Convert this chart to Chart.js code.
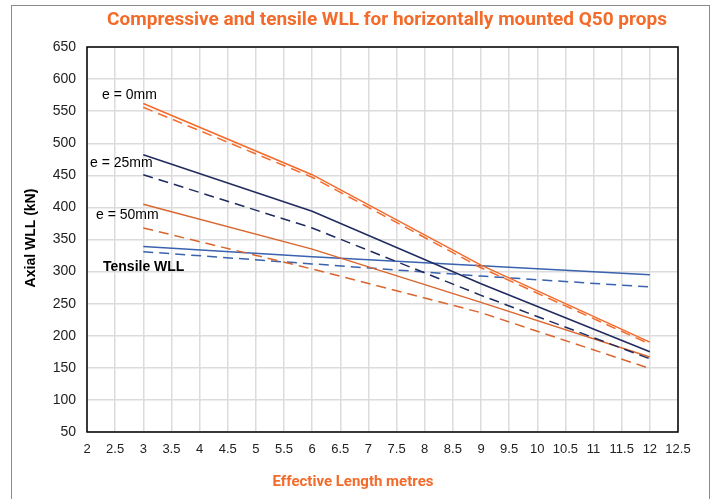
<!DOCTYPE html>
<html>
<head>
<meta charset="utf-8">
<script src="https://cdn.jsdelivr.net/npm/chart.js@4.4.0/dist/chart.umd.min.js"></script>
<style>
    html, body { margin: 0; padding: 0; background: #fff; }
    #wrap { width: 714px; height: 499px; }
</style>
</head>
<body>
<div id="wrap"><canvas id="wllChart" width="714" height="499"></canvas></div>
<script>
// effective length (m) and axial WLL (kN)
var lengths = [3, 6, 9, 12];
var e0Solid = [562, 451, 310, 190];
var e0Dash = [556, 447, 306, 187];
var e25Solid = [482, 394, 281, 175];
var e25Dash = [451, 368, 263, 164];
var e50Solid = [405, 335, 252, 167];
var e50Dash = [368, 304, 236, 149];
var tensileSolid = [339, 323, 309, 295];
var tensileDash = [331, 312, 293, 276];

var ORANGE = '#f36b2b';
var ORANGE_DARK = '#d9662e';
var NAVY = '#1f2b5e';
var BLUE = '#3a62ae';
var FONT = '"Liberation Sans", Arial, sans-serif';

function to_points(values) {
    return values.map(function (v, i) {
        return { x: lengths[i], y: v };
    });
}

function make_set(label, values, color, dashed) {
    return {
        label: label,
        data: to_points(values),
        borderColor: color,
        borderWidth: 1.5,
        borderDash: dashed ? [10, 6] : [],
        pointRadius: 0,
        fill: false,
        tension: 0
    };
}

var decorPlugin = {
    id: 'decor',
    afterDraw: function (chart) {
        var ctx = chart.ctx;
        var a = chart.chartArea;
        ctx.save();

        // outer frame
        ctx.strokeStyle = '#8a8a8a';
        ctx.lineWidth = 1;
        ctx.strokeRect(11.5, 5.5, 698, 520);

        // plot frame
        ctx.strokeStyle = '#000';
        ctx.lineWidth = 1.5;
        ctx.strokeRect(a.left, a.top, a.right - a.left, a.bottom - a.top);

        // titles
        ctx.fillStyle = ORANGE;
        ctx.textAlign = 'center';
        ctx.textBaseline = 'middle';
        ctx.font = 'bold 19px Roboto, sans-serif';
        ctx.fillText('Compressive and tensile WLL for horizontally mounted Q50 props', 387, 20);
        ctx.font = 'bold 15px Roboto, sans-serif';
        ctx.fillText('Effective Length metres', 353, 482);

        ctx.fillStyle = '#000';
        ctx.save();
        ctx.translate(31, 238);
        ctx.rotate(-Math.PI / 2);
        ctx.font = 'bold 14px ' + FONT;
        ctx.fillText('Axial WLL (kN)', 0, 0);
        ctx.restore();

        // series notes
        ctx.textAlign = 'left';
        ctx.font = '14px ' + FONT;
        ctx.fillText('e = 0mm', 102, 95);
        ctx.fillText('e = 25mm', 90, 163);
        ctx.fillText('e = 50mm', 96, 215);
        ctx.font = 'bold 14px ' + FONT;
        ctx.fillText('Tensile WLL', 103, 267);

        ctx.restore();
    }
};

new Chart(document.getElementById('wllChart'), {
    type: 'line',
    data: {
        datasets: [
            make_set('e = 0mm', e0Solid, ORANGE, false),
            make_set('e = 0mm dashed', e0Dash, ORANGE, true),
            make_set('e = 25mm', e25Solid, NAVY, false),
            make_set('e = 25mm dashed', e25Dash, NAVY, true),
            make_set('e = 50mm', e50Solid, ORANGE_DARK, false),
            make_set('e = 50mm dashed', e50Dash, ORANGE_DARK, true),
            make_set('Tensile WLL', tensileSolid, BLUE, false),
            make_set('Tensile WLL dashed', tensileDash, BLUE, true)
        ]
    },
    options: {
        responsive: false,
        animation: false,
        layout: {
            padding: { top: 47, right: 36, left: 0, bottom: 0 }
        },
        plugins: {
            legend: { display: false },
            tooltip: { enabled: false }
        },
        scales: {
            x: {
                type: 'linear',
                min: 2,
                max: 12.5,
                afterFit: function (s) { s.height = 67; },
                ticks: {
                    stepSize: 0.5,
                    padding: 10,
                    autoSkip: false,
                    maxRotation: 0,
                    minRotation: 0,
                    color: '#222',
                    font: { family: FONT, size: 13 },
                    callback: function (v) { return String(v); }
                },
                grid: { color: '#dcdcdc', lineWidth: 1.5, drawTicks: false },
                border: { display: false }
            },
            y: {
                min: 50,
                max: 650,
                afterFit: function (s) { s.width = 87; },
                ticks: {
                    stepSize: 50,
                    padding: 11,
                    color: '#222',
                    font: { family: FONT, size: 14 }
                },
                grid: { color: '#dcdcdc', lineWidth: 1.5, drawTicks: false },
                border: { display: false }
            }
        }
    },
    plugins: [decorPlugin]
});
</script>
</body>
</html>
